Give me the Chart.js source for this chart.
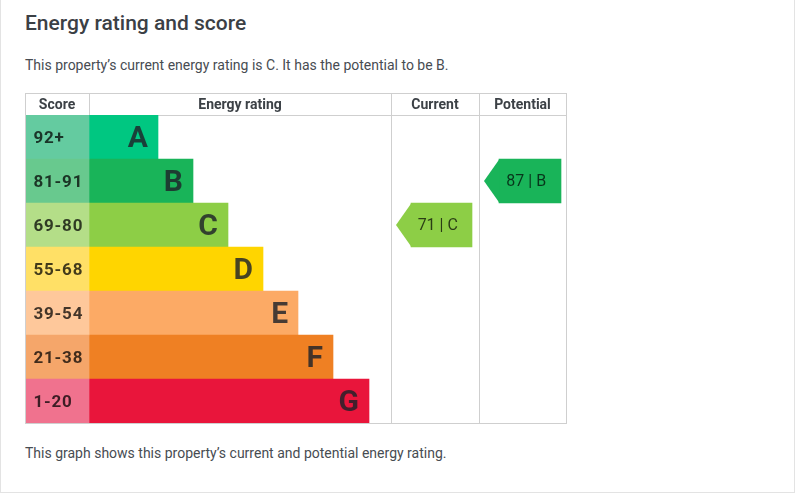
<!DOCTYPE html>
<html>
<head>
<meta charset="utf-8">
<script src="https://cdn.jsdelivr.net/npm/chart.js@4.4.1/dist/chart.umd.min.js"></script>
<style>
    body { margin: 0; background: #fff; font-family: Roboto, "Noto Sans", sans-serif; }
    .card { position: absolute; left: 0; top: -2px; width: 793px; height: 493px; border: 1px solid #e3e3e3; }
    .title { position: absolute; left: 25px; top: 13px; margin: 0; font-size: 21px; line-height: 21px; font-weight: 500; color: #3b4045; white-space: nowrap; }
    .lead, .note { position: absolute; left: 25px; margin: 0; font-size: 14px; line-height: 14px; color: #474c52; white-space: nowrap; }
    .lead { top: 58px; }
    .note { top: 446px; }
    .chart-box { position: absolute; left: 25px; top: 93px; width: 542px; height: 331px; }
</style>
</head>
<body>
<div class="card"></div>
<h2 class="title">Energy rating and score</h2>
<p class="lead">This property’s current energy rating is C. It has the potential to be B.</p>
<div class="chart-box"><canvas id="epcChart"></canvas></div>
<p class="note">This graph shows this property’s current and potential energy rating.</p>

<script>
// Bands, score ranges and the length of each band's bar
const bands = ['A', 'B', 'C', 'D', 'E', 'F', 'G'];
const scoreRanges = ['92+', '81-91', '69-80', '55-68', '39-54', '21-38', '1-20'];
const bandMinScores = [92, 81, 69, 55, 39, 21, 1];
const bandBarLengths = [69, 104, 139, 174, 209, 244, 280];
const bandColors = ['#00c781', '#19b459', '#8dce46', '#ffd500', '#fcaa65', '#ef8023', '#e9153b'];
const scoreColors = ['#64cba0', '#68c98e', '#b4de88', '#ffe066', '#fec89b', '#f5a66a', '#f0728e'];

const currentScore = 71;
const potentialScore = 87;

// Table columns (x scale units) and where the arrows sit inside them
const columns = {
    score: [0, 64],
    rating: [64, 366],
    current: [366, 454],
    potential: [454, 541]
};
const columnTitles = ['Score', 'Energy rating', 'Current', 'Potential'];
const currentArrow = [386, 447];
const potentialArrow = [474, 536];
const tipDepth = 15;

function bandForScore(score) {
    return bandMinScores.findIndex(min => score >= min);
}

function arrowData(score, range) {
    const idx = bandForScore(score);
    return bands.map((b, i) => i === idx ? range : null);
}

const scoreCells = bands.map(() => columns.score);
const ratingBars = bandBarLengths.map(len => [columns.rating[0], columns.rating[0] + len]);
const columnEdges = [columns.score[0], columns.score[1], columns.rating[1], columns.current[1], columns.potential[1]];

const epcLabels = {
    id: 'epcLabels',
    afterDatasetsDraw(chart) {
        const ctx = chart.ctx;
        const xScale = chart.scales.x;
        const area = chart.chartArea;
        ctx.save();

        // score range text
        ctx.font = 'bold 17px Roboto';
        ctx.letterSpacing = '0.8px';
        ctx.fillStyle = 'rgba(0,0,0,0.74)';
        ctx.textAlign = 'left';
        ctx.textBaseline = 'alphabetic';
        chart.getDatasetMeta(0).data.forEach((bar, i) => {
            ctx.fillText(scoreRanges[i], bar.base + 8, bar.y + 6);
        });
        ctx.letterSpacing = '0px';

        // band letters
        ctx.font = 'bold 30px Roboto';
        ctx.fillStyle = 'rgba(30,34,42,0.82)';
        ctx.textAlign = 'right';
        chart.getDatasetMeta(1).data.forEach((bar, i) => {
            ctx.fillText(bands[i], bar.x - 10, bar.y + 10);
        });

        // arrow tips and score text
        [2, 3].forEach(di => {
            const ds = chart.data.datasets[di];
            chart.getDatasetMeta(di).data.forEach((bar, i) => {
                if (!ds.data[i]) return;
                const top = bar.y - bar.height / 2;
                const bottom = bar.y + bar.height / 2;
                ctx.fillStyle = bandColors[i];
                ctx.beginPath();
                ctx.moveTo(bar.base + 0.5, top);
                ctx.lineTo(bar.base - tipDepth, bar.y);
                ctx.lineTo(bar.base + 0.5, bottom);
                ctx.closePath();
                ctx.fill();

                ctx.font = '16px Roboto';
                ctx.fillStyle = 'rgba(0,0,0,0.7)';
                ctx.textAlign = 'center';
                ctx.textBaseline = 'middle';
                const mid = (bar.base - tipDepth / 2 + bar.x) / 2;
                ctx.fillText(ds.score + ' | ' + bands[i], mid, bar.y + 1);
            });
        });

        // header titles
        ctx.font = 'bold 14px Roboto';
        ctx.fillStyle = '#3c4146';
        ctx.textAlign = 'center';
        ctx.textBaseline = 'alphabetic';
        Object.values(columns).forEach((col, i) => {
            const cx = xScale.getPixelForValue((col[0] + col[1]) / 2);
            ctx.fillText(columnTitles[i], cx, area.top - 5.7);
        });

        // outer frame
        ctx.strokeStyle = '#cfcfcf';
        ctx.lineWidth = 1;
        const left = xScale.getPixelForValue(columns.score[0]);
        const right = xScale.getPixelForValue(columns.potential[1]);
        ctx.strokeRect(left + 0.5, 0.5, right - left, area.bottom);
        ctx.restore();
    }
};

new Chart(document.getElementById('epcChart'), {
    type: 'bar',
    data: {
        labels: bands,
        datasets: [
            { label: 'Score', data: scoreCells, backgroundColor: scoreColors },
            { label: 'Energy rating', data: ratingBars, backgroundColor: bandColors },
            { label: 'Current', data: arrowData(currentScore, currentArrow), score: currentScore, backgroundColor: bandColors },
            { label: 'Potential', data: arrowData(potentialScore, potentialArrow), score: potentialScore, backgroundColor: bandColors }
        ]
    },
    options: {
        indexAxis: 'y',
        responsive: true,
        maintainAspectRatio: false,
        animation: false,
        layout: { padding: { top: 0, right: 1, bottom: 1, left: 0 } },
        datasets: {
            bar: { grouped: false, barPercentage: 1, categoryPercentage: 1, borderWidth: 0 }
        },
        plugins: {
            legend: { display: false },
            tooltip: { enabled: false }
        },
        scales: {
            x: {
                position: 'top',
                min: columns.score[0],
                max: columns.potential[1],
                afterBuildTicks: scale => {
                    scale.ticks = columnEdges.map(v => ({ value: v }));
                },
                ticks: { display: false },
                grid: { color: '#cfcfcf', tickLength: 22, drawTicks: true },
                border: { display: true, color: '#cfcfcf' }
            },
            y: {
                display: false
            }
        }
    },
    plugins: [epcLabels]
});
</script>
</body>
</html>
